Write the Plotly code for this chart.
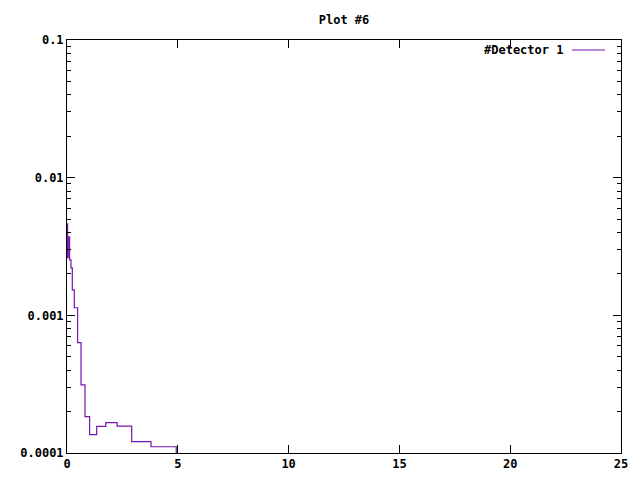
import plotly.graph_objects as go

# Bin left edges (x) and step levels (y)
bin_edges = [0.0, 0.027, 0.059, 0.117, 0.18, 0.239, 0.329, 0.478, 0.632, 0.812,
             1.02, 1.34, 1.75, 2.26, 2.92, 3.79, 4.93]
levels = [0.00462, 0.00262, 0.00372, 0.00253, 0.00221, 0.00153, 0.001135, 0.000633,
          0.000313, 0.000184, 0.000136, 0.000156, 0.000166, 0.000157, 0.000121, 0.000111]
floor_value = 1e-6  # series drops below the axis after the last bin

series_name = "#Detector 1"
title_text = "Plot #6"
y_tickvals = [0.0001, 0.001, 0.01, 0.1]
y_ticktext = ["0.0001", "0.001", "0.01", "0.1"]
y_minor_tickvals = [m * 10.0 ** e for e in (-4, -3, -2) for m in range(2, 10)]
x_tickvals = [0, 5, 10, 15, 20, 25]

color = "#7414AC"
font = dict(family="DejaVu Sans Mono", size=12, color="black", weight="bold")

x = list(bin_edges)
y = list(levels) + [floor_value]

fig = go.Figure()
fig.add_trace(go.Scatter(x=x, y=y, mode="lines", line=dict(shape="hv", color=color, width=1.2),
                         name=series_name, showlegend=False))

fig.update_layout(
    width=640, height=480,
    margin=dict(l=67, r=19, t=40, b=27),
    paper_bgcolor="white", plot_bgcolor="white",
    title=dict(text=title_text, x=(344 / 640), xanchor="center", y=1 - 20 / 480, yanchor="middle",
               font=font, automargin=False),
    font=font,
    showlegend=False,
)
fig.update_xaxes(range=[0, 25], tickvals=x_tickvals, ticks="inside", ticklen=8, tickcolor="black",
                 showline=True, linecolor="black", linewidth=1, mirror="allticks",
                 showgrid=False, zeroline=False, tickfont=font, automargin=False)
fig.update_yaxes(type="log", range=[-4, -1], tickvals=y_tickvals, ticktext=y_ticktext,
                 ticks="inside", ticklen=8, tickcolor="black",
                 minor=dict(tickvals=y_minor_tickvals, ticks="inside", ticklen=4, tickcolor="black",
                            showgrid=False),
                 showline=True, linecolor="black", linewidth=1, mirror="allticks",
                 showgrid=False, zeroline=False, tickfont=font, automargin=False)

# gnuplot-style key: text then line sample to its right
key_y = (453 - 50) / 413
fig.add_annotation(text=series_name, xref="paper", yref="paper", x=(565 - 67) / 554, y=key_y,
                   xanchor="right", yanchor="middle", showarrow=False, font=font)
fig.add_shape(type="line", xref="paper", yref="paper", x0=(572 - 67) / 554, x1=(605 - 67) / 554,
              y0=key_y, y1=key_y, line=dict(color=color, width=1.2))

fig.write_html("out.html", config={"displayModeBar": False},
               post_script="document.body.style.margin='0';")
